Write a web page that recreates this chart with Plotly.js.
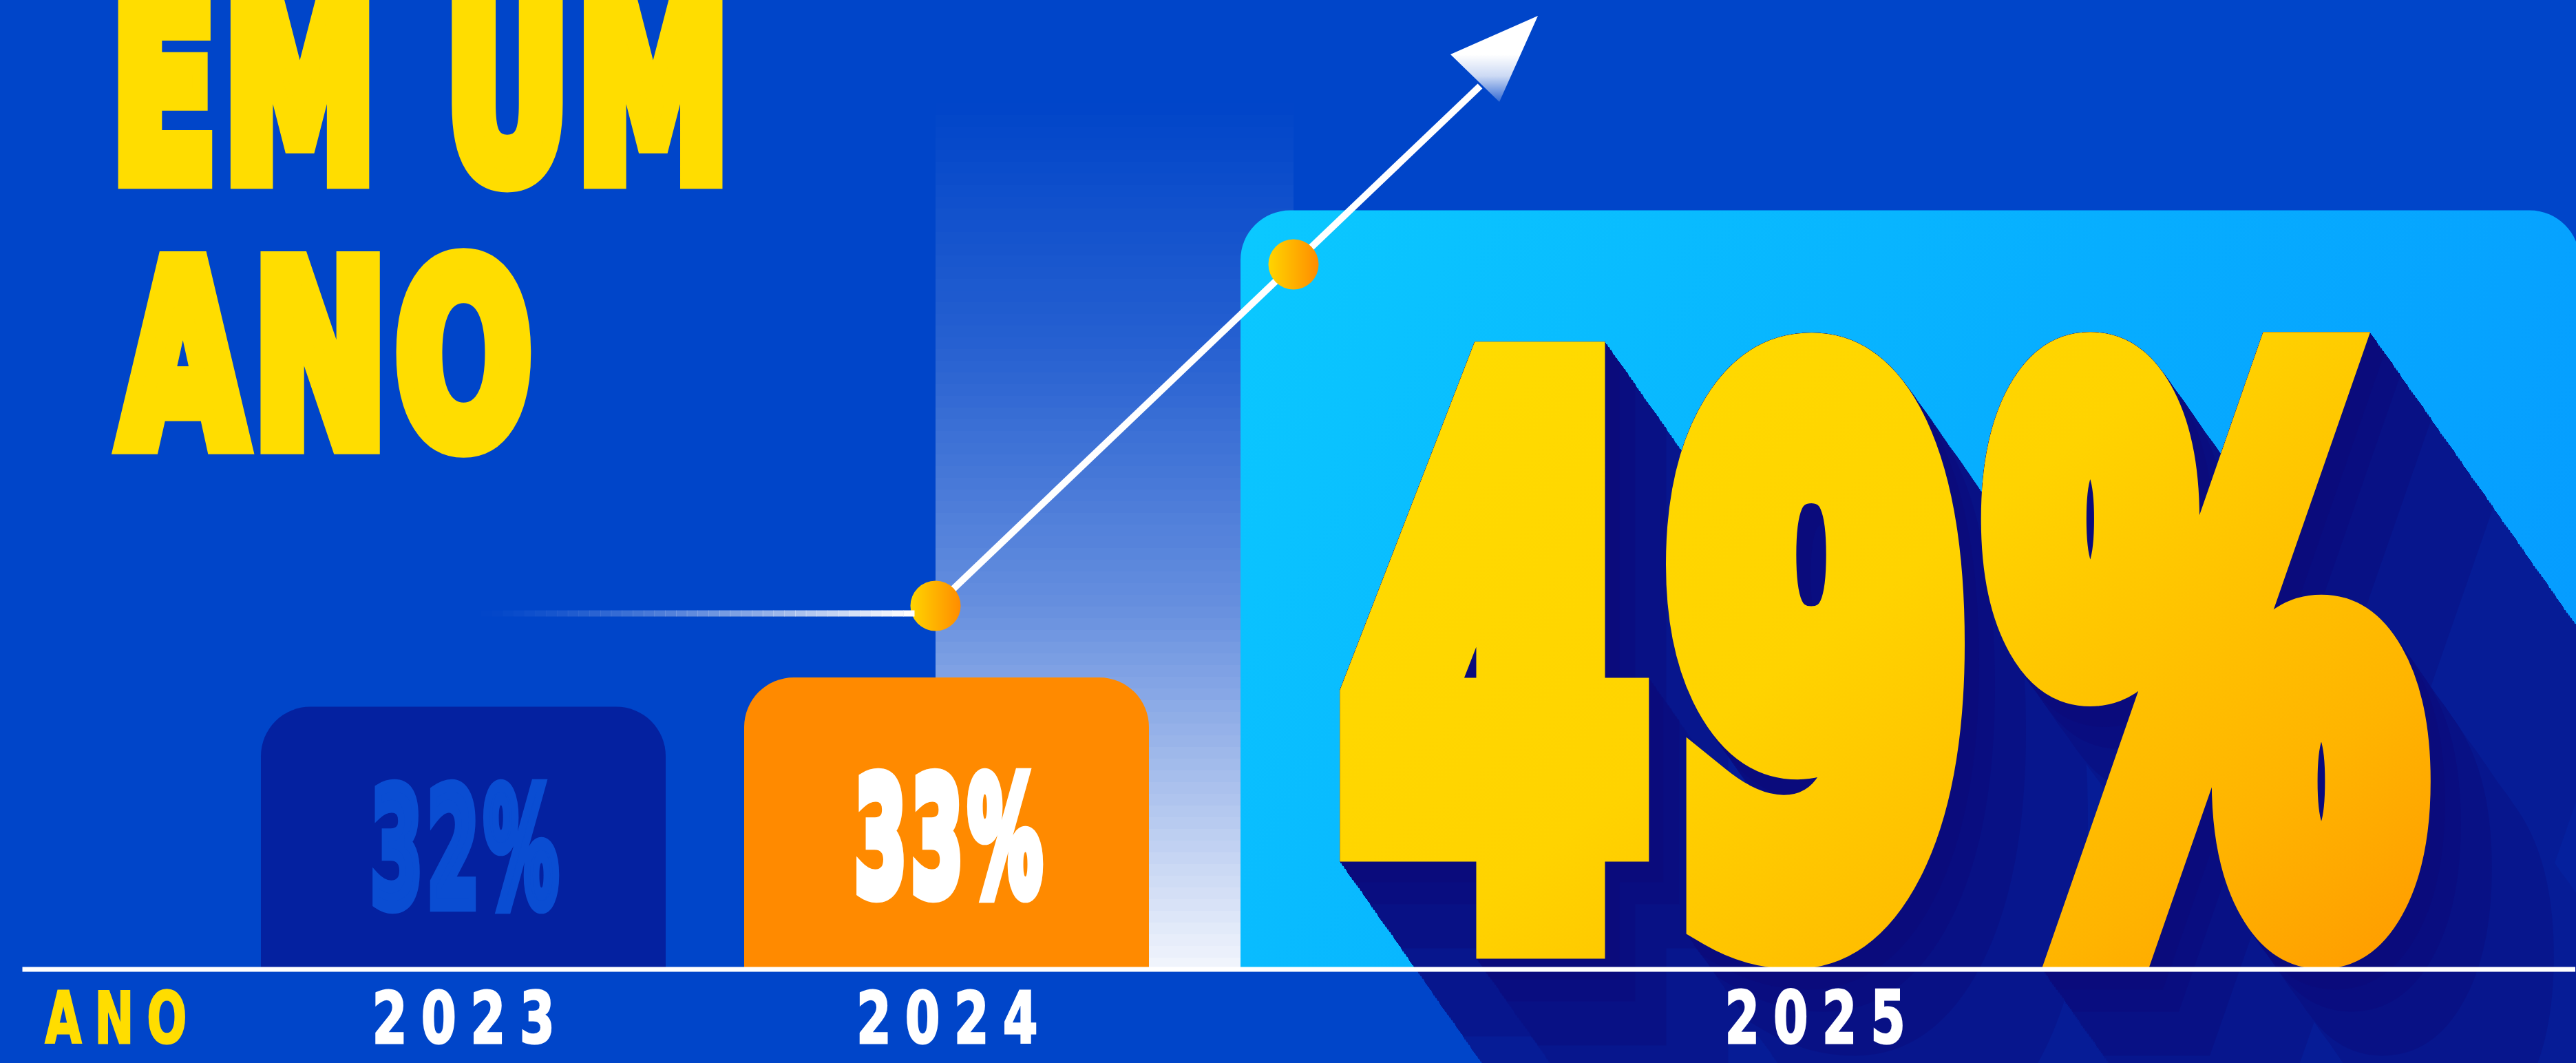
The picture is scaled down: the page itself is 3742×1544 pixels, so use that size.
<!DOCTYPE html>
<html>
<head>
<meta charset="utf-8">
<script src="https://cdn.plot.ly/plotly-3.0.1.min.js"></script>
<style>
html, body { margin: 0; padding: 0; background: #0045C9; overflow: hidden; }
#chart { width: 3742px; height: 1544px; }
</style>
</head>
<body>
<div id="chart"></div>
<script>
// ---------------- data ----------------
const years = ['2023', '2024', '2025'];
const shares = [32, 33, 49];
const headline = ['EM UM', 'ANO'];
const axisName = 'ANO';

// ---------------- style / geometry ----------------
const W = 3742, H = 1544, BASE_PX = 1408;
const BG = '#0045C9';
const YELLOW = '#FFDD00';
const COND = "'Liberation Sans Narrow', 'Arial Narrow', 'DejaVu Sans Condensed', sans-serif";
const barColors = ['#0421A0', '#FF8A00', '#08B2FF'];
const pxPerYear = 702, firstYearPx = 673;
const pxPerPoint = 42.4, yFloor = 23;
const xStart = Number(years[0]) - firstYearPx / pxPerYear;
const P = v => v / W;                       // pixel -> paper x
const Q = v => (BASE_PX - v) / BASE_PX;     // pixel -> paper y

// ---------------- traces ----------------
const barTrace = {
  type: 'bar', x: years, y: shares,
  width: [0.8376, 0.8376, 2.7707],
  offset: [-0.4188, -0.4188, -0.3917],
  marker: { color: barColors, cornerradius: 72, line: { width: 0 } },
  textposition: 'none', hoverinfo: 'skip', showlegend: false
};
const trendLine = {
  type: 'scatter', mode: 'lines', xaxis: 'x2', yaxis: 'y2',
  x: [1359, 2150], y: [880, 125],
  line: { color: '#FFFFFF', width: 10 }, hoverinfo: 'skip', showlegend: false
};
const arrowHead = {
  type: 'scatter', mode: 'lines', xaxis: 'x2', yaxis: 'y2', fill: 'toself',
  x: [2107, 2234, 2178, 2107], y: [79, 23, 148, 79],
  line: { color: 'rgba(0,0,0,0)', width: 0 },
  fillgradient: { type: 'vertical', start: 148, stop: 23,
    colorscale: [[0, 'rgba(255,255,255,0.2)'], [0.3, 'rgba(255,255,255,0.8)'], [0.55, 'rgba(255,255,255,1)'], [1, 'rgba(255,255,255,1)']] },
  hoverinfo: 'skip', showlegend: false
};
const trendDots = {
  type: 'scatter', mode: 'markers', xaxis: 'x2', yaxis: 'y2',
  x: [1359, 1879], y: [880, 384],
  marker: { size: 73, color: '#FFD500', gradient: { type: 'horizontal', color: '#FF8C00' }, line: { width: 0 } },
  hoverinfo: 'skip', showlegend: false
};

// ---------------- shapes (light beam + fading line) ----------------
const shapes = [];
const beamStops = [[0, 0.95], [0.17, 0.72], [0.42, 0.40], [0.72, 0.15], [1, 0]];
function beamAlpha(t) {
  for (let i = 1; i < beamStops.length; i++) {
    if (t <= beamStops[i][0]) {
      const [t0, a0] = beamStops[i - 1], [t1, a1] = beamStops[i];
      return a0 + (a1 - a0) * (t - t0) / (t1 - t0);
    }
  }
  return 0;
}
for (let yb = BASE_PX; yb > 150; yb -= 17) {
  const yt = Math.max(150, yb - 17);
  const t = (BASE_PX - (yb + yt) / 2) / (BASE_PX - 150);
  shapes.push({ type: 'rect', layer: 'below', xref: 'paper', yref: 'paper',
    x0: P(1359), x1: P(1879), y0: Q(yb), y1: Q(yt),
    fillcolor: 'rgba(255,255,255,' + beamAlpha(t).toFixed(3) + ')', line: { width: 0 } });
}
const segN = 40, lx0 = 699, lx1 = 1328;
for (let i = 0; i < segN; i++) {
  const a = lx0 + (lx1 - lx0) * i / segN, b = lx0 + (lx1 - lx0) * (i + 1) / segN;
  const op = Math.pow((i + 1) / segN, 1.4);
  shapes.push({ type: 'line', layer: 'above', xref: 'paper', yref: 'paper',
    x0: P(a), x1: P(b + 0.5), y0: Q(891), y1: Q(891),
    line: { color: 'rgba(255,255,255,' + op.toFixed(3) + ')', width: 9 } });
}

// ---------------- texts ----------------
// cx, cy: centre of the ink box; w, h: ink width / height (pixels); bold: extra stroke (em)
const textSpecs = [
  { text: headline[0], cx: 610, cy: 126, w: 879, h: 308, size: 440, color: YELLOW, spacing: 22, bold: 0.09 },
  { text: headline[1], cx: 470, cy: 511, w: 610, h: 308, size: 440, color: YELLOW, spacing: 22, bold: 0.085 },
  { text: shares[0] + '%', cx: 676, cy: 1229, w: 273, h: 198, size: 283, color: '#0A4DD2', spacing: 18, bold: 0.08 },
  { text: shares[1] + '%', cx: 1379, cy: 1213, w: 273, h: 198, size: 283, color: '#FFFFFF', spacing: 18, bold: 0.08 },
  { text: shares[2] + '%', cx: 2736, cy: 941, w: 1592, h: 935, size: 1330, color: '#FFD600', spacing: 85, bold: 0.115, long: true },
  null, // baseline
  { text: axisName, cx: 167, cy: 1477, w: 205, h: 82, size: 117, color: YELLOW, spacing: 30, bold: 0.03 },
  { text: years[0], cx: 673, cy: 1477, w: 256, h: 82, size: 117, color: '#FFFFFF', spacing: 30, bold: 0.03 },
  { text: years[1], cx: 1377, cy: 1477, w: 257, h: 82, size: 117, color: '#FFFFFF', spacing: 30, bold: 0.03 },
  { text: years[2], cx: 2637, cy: 1476, w: 254, h: 84, size: 117, color: '#FFFFFF', spacing: 30, bold: 0.03 }
];
const annotations = textSpecs.map(s => {
  if (!s) {
    return { x: 1, y: 0, xref: 'paper', yref: 'paper', text: '', showarrow: true,
      ax: 31 - W, ay: 0, axref: 'pixel', ayref: 'pixel', arrowhead: 0, arrowwidth: 7,
      arrowcolor: '#FFFFFF', standoff: 0, startstandoff: 0 };
  }
  return { text: s.text, x: P(s.cx), y: Q(s.cy), xref: 'paper', yref: 'paper',
    xanchor: 'center', yanchor: 'middle', showarrow: false,
    font: { family: COND, size: s.size, color: s.color, weight: 700 } };
});

const layout = {
  width: W, height: H,
  margin: { l: 0, r: 0, t: 0, b: H - BASE_PX, pad: 0 },
  paper_bgcolor: BG, plot_bgcolor: 'rgba(0,0,0,0)',
  barmode: 'overlay', showlegend: false,
  xaxis: { type: 'linear', range: [xStart, xStart + W / pxPerYear], visible: false, fixedrange: true },
  yaxis: { range: [yFloor, yFloor + BASE_PX / pxPerPoint], visible: false, fixedrange: true },
  xaxis2: { overlaying: 'x', anchor: 'y2', range: [0, W], visible: false },
  yaxis2: { overlaying: 'y', anchor: 'x2', range: [BASE_PX, 0], visible: false },
  shapes: shapes, annotations: annotations
};

const gd = document.getElementById('chart');
Plotly.newPlot(gd, [barTrace, trendLine, arrowHead, trendDots], layout, { staticPlot: true, displayModeBar: false })
.then(() => {
  const NS = 'http://www.w3.org/2000/svg';
  const svg = gd.querySelector('.main-svg');
  let defs = svg.querySelector('defs');
  if (!defs) { defs = document.createElementNS(NS, 'defs'); svg.insertBefore(defs, svg.firstChild); }
  function mk(tag, attrs, parent) {
    const e = document.createElementNS(NS, tag);
    for (const k in attrs) e.setAttribute(k, attrs[k]);
    if (parent) parent.appendChild(e);
    return e;
  }
  function addGrad(id, attrs, stops) {
    const g = mk('linearGradient', Object.assign({ id: id }, attrs), defs);
    stops.forEach(([o, c]) => mk('stop', { offset: o, 'stop-color': c }, g));
  }
  addGrad('boxGrad', { gradientUnits: 'userSpaceOnUse', x1: 1802, y1: 305, x2: 3742, y2: 1408 },
    [[0, '#0BC9FF'], [0.5, '#07AEFF'], [1, '#0597FF']]);
  addGrad('numGrad', { x1: 0, y1: 0, x2: 1, y2: 1 },
    [[0, '#FFDE00'], [0.45, '#FFD300'], [0.75, '#FFB400'], [1, '#FF8E00']]);
  const barPaths = gd.querySelectorAll('.barlayer .point path');
  if (barPaths[2]) barPaths[2].style.fill = 'url(#boxGrad)';

  // long shadow filter built from doubling offsets (local units of the text)
  function addLongShadow(id, ux, uy) {
    const f = mk('filter', { id: id, x: '-10%', y: '-10%', width: '230%', height: '270%',
      'color-interpolation-filters': 'sRGB' }, defs);
    let prev = 'SourceAlpha';
    const levels = 10;
    for (let k = 0; k < levels; k++) {
      const s = Math.pow(2, k);
      mk('feOffset', { in: prev, dx: (ux * s).toFixed(2), dy: (uy * s).toFixed(2), result: 'o' + k }, f);
      const mg = mk('feMerge', { result: 'm' + k }, f);
      mk('feMergeNode', { in: prev }, mg);
      mk('feMergeNode', { in: 'o' + k }, mg);
      prev = 'm' + k;
    }
    const tiers = [['m9', '#0523A3'], ['m8', '#05209D'], ['m7', '#061C96'], ['m6', '#07168D'],
                   ['m5', '#081185'], ['m4', '#090D80'], ['m3', '#0A0B7C']];
    tiers.forEach(([src, col], j) => {
      mk('feFlood', { 'flood-color': col, result: 'c' + j }, f);
      mk('feComposite', { in: 'c' + j, in2: src, operator: 'in', result: 't' + j }, f);
    });
    const out = mk('feMerge', {}, f);
    tiers.forEach((t, j) => mk('feMergeNode', { in: 't' + j }, out));
    mk('feMergeNode', { in: 'SourceGraphic' }, out);
  }

  const ctx = document.createElement('canvas').getContext('2d');
  textSpecs.forEach((s, i) => {
    if (!s) return;
    const el = gd.querySelector('.annotation[data-index="' + i + '"] text.annotation-text');
    if (!el) return;
    ctx.font = '700 ' + s.size + 'px ' + COND;
    const m = ctx.measureText(s.text);
    const L = s.spacing || 0, n = s.text.length;
    const sw = (s.bold || 0) * s.size;
    const inkW = m.actualBoundingBoxLeft + m.actualBoundingBoxRight + (n - 1) * L + sw;
    const inkH = m.actualBoundingBoxAscent + m.actualBoundingBoxDescent + sw;
    const sx = s.w / inkW, sy = s.h / inkH;
    if (L) el.style.letterSpacing = L + 'px';
    const paint = s.long ? 'url(#numGrad)' : s.color;
    if (s.long) el.style.fill = paint;
    if (sw) {
      el.style.stroke = paint;
      el.style.strokeWidth = sw.toFixed(1) + 'px';
      el.style.strokeLinejoin = 'miter';
      el.style.strokeMiterlimit = '3';
    }
    el.style.transformBox = 'fill-box';
    el.style.transformOrigin = 'center';
    el.style.transform = 'scale(' + sx.toFixed(4) + ',' + sy.toFixed(4) + ')';
    const r = el.getBoundingClientRect();
    const fA = m.fontBoundingBoxAscent, fD = m.fontBoundingBoxDescent;
    const baseY = r.top + r.height * fA / (fA + fD);
    const inkCy = baseY - (m.actualBoundingBoxAscent - m.actualBoundingBoxDescent) / 2 * sy;
    const inkCx = r.left + sx * (m.actualBoundingBoxRight + (n - 1) * L - m.actualBoundingBoxLeft) / 2;
    const dx = s.cx - inkCx, dy = s.cy - inkCy;
    el.style.transform = 'translate(' + dx.toFixed(1) + 'px,' + dy.toFixed(1) + 'px) scale(' + sx.toFixed(4) + ',' + sy.toFixed(4) + ')';
    if (s.long) {
      const stepY = 2, stepX = stepY / 1.42;
      addLongShadow('longShadow', stepX / sx, stepY / sy);
      el.style.filter = 'url(#longShadow)';
    }
  });
});
</script>
</body>
</html>
